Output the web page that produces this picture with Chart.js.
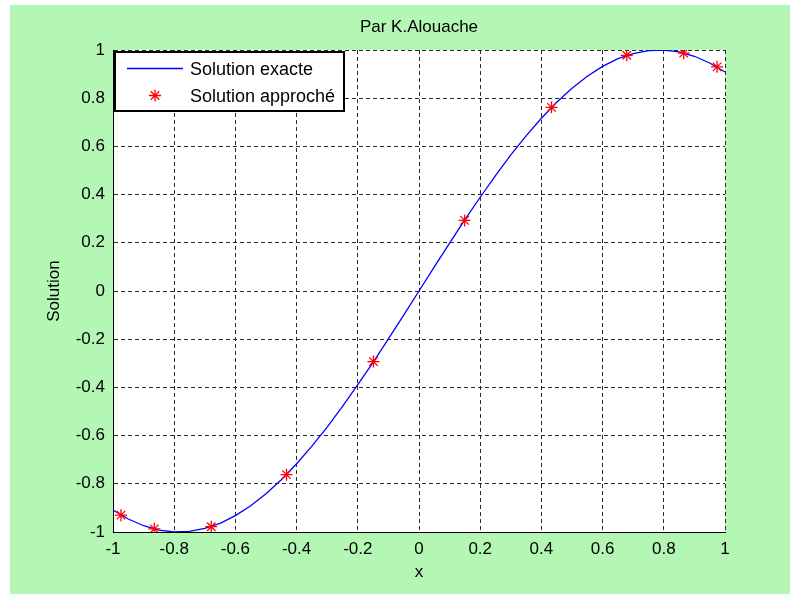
<!DOCTYPE html>
<html>
<head>
<meta charset="utf-8">
<script src="https://cdn.jsdelivr.net/npm/chart.js@4.4.1/dist/chart.umd.min.js"></script>
<style>
  html, body { margin: 0; padding: 0; background: #ffffff; }
  #wrap { position: absolute; left: 10px; top: 5px; width: 780px; height: 589px; }
</style>
</head>
<body>
<div id="wrap"><canvas id="c" width="780" height="589"></canvas></div>
<script>
// Exact solution, sampled along x
const curveX = [-1, -0.95, -0.9, -0.85, -0.8, -0.75, -0.7, -0.65, -0.6, -0.55, -0.5,
                -0.45, -0.4, -0.35, -0.3, -0.25, -0.2, -0.15, -0.1, -0.05, 0,
                0.05, 0.1, 0.15, 0.2, 0.25, 0.3, 0.35, 0.4, 0.45, 0.5,
                0.55, 0.6, 0.65, 0.7, 0.75, 0.8, 0.85, 0.9, 0.95, 1];
const curveY = [-0.909, -0.946, -0.974, -0.992, -1.000, -0.997, -0.985, -0.964, -0.932, -0.891, -0.841,
                -0.783, -0.717, -0.644, -0.565, -0.479, -0.389, -0.296, -0.199, -0.100, 0,
                0.100, 0.199, 0.296, 0.389, 0.479, 0.565, 0.644, 0.717, 0.783, 0.841,
                0.891, 0.932, 0.964, 0.985, 0.997, 1.000, 0.992, 0.974, 0.946, 0.909];

// Approximate solution at the collocation nodes
const approxX = [-0.974, -0.865, -0.679, -0.433, -0.149, 0.149, 0.433, 0.679, 0.865, 0.974];
const approxY = [-0.930, -0.987, -0.978, -0.762, -0.293, 0.293, 0.762, 0.978, 0.987, 0.930];

// Axis ticks (same on both axes)
const tickValues = [-1, -0.8, -0.6, -0.4, -0.2, 0, 0.2, 0.4, 0.6, 0.8, 1];
const tickLabels = ['-1', '-0.8', '-0.6', '-0.4', '-0.2', '0', '0.2', '0.4', '0.6', '0.8', '1'];

const titleText = 'Par K.Alouache';
const xTitle = 'x';
const yTitle = 'Solution';
const exactLabel = 'Solution exacte';
const approxLabel = 'Solution approché';

const FONT = '"Liberation Sans", Arial, Helvetica, sans-serif';
const FIGURE_BG = 'rgb(180, 246, 180)';

Chart.defaults.font.family = FONT;
Chart.defaults.color = '#000000';

// Figure colour around a white axes box
const backdrop = {
  id: 'backdrop',
  beforeDraw(chart) {
    const { ctx, chartArea: a } = chart;
    ctx.save();
    ctx.fillStyle = FIGURE_BG;
    ctx.fillRect(0, 0, chart.width, chart.height);
    ctx.fillStyle = '#ffffff';
    ctx.fillRect(a.left, a.top, a.right - a.left, a.bottom - a.top);
    ctx.restore();
  }
};

// Boxed legend in the upper-left corner of the axes
const boxedLegend = {
  id: 'boxedLegend',
  afterDraw(chart) {
    const { ctx, chartArea: a } = chart;
    const bx = a.left + 2, by = a.top + 2, bw = 229, bh = 59;
    ctx.save();
    ctx.fillStyle = '#ffffff';
    ctx.fillRect(bx, by, bw, bh);
    ctx.strokeStyle = '#000000';
    ctx.lineWidth = 2;
    ctx.strokeRect(bx, by, bw, bh);

    const row1 = by + 16.5, row2 = by + 43.5;
    // line sample
    ctx.strokeStyle = '#0000ff';
    ctx.lineWidth = 1.3;
    ctx.beginPath();
    ctx.moveTo(bx + 12, row1);
    ctx.lineTo(bx + 68, row1);
    ctx.stroke();
    // star sample
    const opts = { pointStyle: 'star', radius: 6, rotation: 0, borderWidth: 1.3 };
    ctx.strokeStyle = '#ff0000';
    ctx.fillStyle = '#ff0000';
    ctx.lineWidth = 1.3;
    Chart.helpers.drawPoint(ctx, opts, bx + 40, row2);

    ctx.fillStyle = '#000000';
    ctx.font = '18px ' + FONT;
    ctx.textAlign = 'left';
    ctx.textBaseline = 'alphabetic';
    ctx.fillText(exactLabel, bx + 75, row1 + 6.4);
    ctx.fillText(approxLabel, bx + 75, row2 + 6.4);
    ctx.restore();
  }
};

const exactPoints = curveX.map((x, i) => ({ x: x, y: curveY[i] }));
const approxPoints = approxX.map((x, i) => ({ x: x, y: approxY[i] }));

function axisOptions(title, titlePadding, fitFn, tickPad) {
  return {
    type: 'linear',
    min: -1,
    max: 1,
    afterBuildTicks: s => { s.ticks = tickValues.map(v => ({ value: v })); },
    afterFit: fitFn,
    ticks: {
      callback: (v, i) => tickLabels[i],
      padding: tickPad,
      autoSkip: false,
      maxRotation: 0,
      color: '#000000',
      font: { size: 17, family: FONT }
    },
    grid: { color: '#2a2a2a', lineWidth: 1, drawTicks: false },
    border: { display: true, color: '#000000', width: 1, dash: [4, 3] },
    title: {
      display: true,
      text: title,
      color: '#000000',
      font: { size: 17, family: FONT },
      padding: titlePadding
    }
  };
}

new Chart(document.getElementById('c'), {
  type: 'scatter',
  data: {
    datasets: [
      {
        label: approxLabel,
        data: approxPoints,
        showLine: false,
        pointStyle: 'star',
        pointRadius: 6,
        pointHoverRadius: 6,
        pointBorderWidth: 1.3,
        pointBorderColor: '#ff0000',
        pointBackgroundColor: '#ff0000',
        borderColor: '#ff0000',
        backgroundColor: '#ff0000',
        order: 0
      },
      {
        label: exactLabel,
        data: exactPoints,
        showLine: true,
        borderColor: '#0000ff',
        backgroundColor: '#0000ff',
        borderWidth: 1.3,
        pointRadius: 0,
        pointHoverRadius: 0,
        tension: 0,
        order: 1
      }
    ]
  },
  options: {
    responsive: false,
    animation: false,
    events: [],
    layout: { padding: { left: 0, right: 65, top: 0, bottom: 0 } },
    plugins: {
      legend: { display: false },
      tooltip: { enabled: false },
      title: {
        display: true,
        fullSize: false,
        text: titleText,
        color: '#000000',
        font: { size: 17, weight: 'normal', family: FONT },
        padding: { top: 11.8, bottom: 12.8 }
      }
    },
    scales: {
      x: axisOptions(xTitle, { top: 0, bottom: 11.8 }, s => { s.height = 62; }, 7),
      y: axisOptions(yTitle, { top: 33.8, bottom: 0 }, s => { s.width = 103; }, 8)
    }
  },
  plugins: [backdrop, boxedLegend]
});
</script>
</body>
</html>
